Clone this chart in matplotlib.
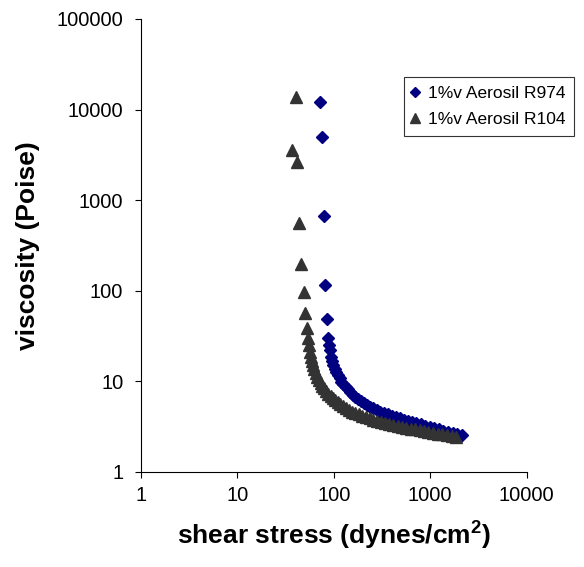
import matplotlib
matplotlib.use("Agg")
import matplotlib.pyplot as plt
from matplotlib.ticker import FixedLocator, FixedFormatter, NullLocator

plt.rcParams['font.family'] = ['Liberation Sans', 'DejaVu Sans']
plt.rcParams['mathtext.fontset'] = 'custom'
plt.rcParams['mathtext.rm'] = 'Liberation Sans'
plt.rcParams['mathtext.bf'] = 'Liberation Sans:bold'

# 1%v Aerosil R974 (diamonds)
tensao_r974 = [72.6, 75.7, 78.8, 81.8, 85.3, 87.9, 90, 91.6, 93.8,
               96, 99, 102, 106, 110, 115, 120, 126, 133, 140, 148, 157, 167, 178,
               190, 204, 220, 238, 258, 280, 305, 333, 365, 400, 440, 485, 535, 590,
               650, 720, 800, 890, 990, 1100, 1230, 1370, 1530, 1710, 1910, 2120]
visc_r974 = [12200, 5030, 674, 116, 49, 29.8, 25, 22, 18.7,
             16.5, 15, 13.7, 12.5, 11.6, 10.7, 9.9, 9.2, 8.6, 8.1, 7.6, 7.1, 6.7, 6.3,
             6.0, 5.75, 5.5, 5.2, 5.0, 4.8, 4.6, 4.45, 4.3, 4.15, 4.0, 3.88, 3.77, 3.65,
             3.55, 3.44, 3.33, 3.22, 3.12, 3.02, 2.93, 2.84, 2.76, 2.68, 2.6, 2.54]

# 1%v Aerosil R104 (triangulos)
tensao_r104 = [37.2, 40.7, 42, 43.7, 45.5, 48.9, 50.8, 53.3,
               54.6, 55.8, 56.8, 58, 59.5, 61, 63, 65, 67.5, 70, 73, 76.5, 80, 84, 88,
               93, 98, 104, 110, 117, 125, 134, 144, 155, 168, 182, 198, 216, 236,
               258, 283, 311, 342, 377, 416, 460, 510, 565, 627, 697, 775, 862, 960,
               1070, 1195, 1335, 1490, 1665, 1860]
visc_r104 = [3590, 13700, 2660, 564, 197, 97.5, 56, 38.4,
             30, 25, 21, 18.5, 16.5, 15, 13.5, 12.3, 11.2, 10.3, 9.5, 8.8, 8.3, 7.8, 7.3,
             6.9, 6.5, 6.15, 5.85, 5.55, 5.3, 5.05, 4.8, 4.6, 4.4, 4.3, 4.15, 4.0, 3.87,
             3.75, 3.64, 3.54, 3.45, 3.36, 3.28, 3.2, 3.12, 3.05, 2.99, 2.93, 2.88, 2.82, 2.76,
             2.7, 2.64, 2.58, 2.53, 2.48, 2.44]

ticks_x = [1, 10, 100, 1000, 10000]
ticks_y = [1, 10, 100, 1000, 10000, 100000]

fig = plt.figure(figsize=(5.84, 5.67), dpi=100)
ax = fig.add_axes([0.2409, 0.1681, 0.661, 0.7984])

ax.plot(tensao_r974, visc_r974, linestyle='none', marker='D', markersize=6,
        color='#000080', label='1%v Aerosil R974')
ax.plot(tensao_r104, visc_r104, linestyle='none', marker='^', markersize=8,
        color='#333333', label='1%v Aerosil R104')

ax.set_xscale('log')
ax.set_yscale('log')
ax.set_xlim(1, 10000)
ax.set_ylim(1, 100000)

ax.xaxis.set_major_locator(FixedLocator(ticks_x))
ax.xaxis.set_major_formatter(FixedFormatter([str(t) for t in ticks_x]))
ax.yaxis.set_major_locator(FixedLocator(ticks_y))
ax.yaxis.set_major_formatter(FixedFormatter([str(t) for t in ticks_y]))
ax.xaxis.set_minor_locator(NullLocator())
ax.yaxis.set_minor_locator(NullLocator())

ax.spines['top'].set_visible(False)
ax.spines['right'].set_visible(False)
for s in ['left', 'bottom']:
    ax.spines[s].set_linewidth(0.8)
ax.tick_params(axis='both', direction='out', length=4.5, width=0.8, labelsize=14.5)
ax.tick_params(axis='y', pad=8)
ax.tick_params(axis='x', pad=6)

ax.set_ylabel('viscosity (Poise)', fontsize=19, fontweight='bold', labelpad=12)
ax.set_xlabel(r'shear stress (dynes/cm$^{\mathbf{2}}$)', fontsize=19, fontweight='bold', labelpad=9)

leg = ax.legend(loc='upper right', bbox_to_anchor=(0.983, 0.864), bbox_transform=fig.transFigure,
                borderaxespad=0, fontsize=12.5, fancybox=False, shadow=False,
                handlelength=0.3, handletextpad=0.6, markerscale=0.85, borderpad=0.48,
                labelspacing=0.67)
leg.get_frame().set_edgecolor('black')
leg.get_frame().set_linewidth(0.8)

fig.savefig('out.png', dpi=100)
